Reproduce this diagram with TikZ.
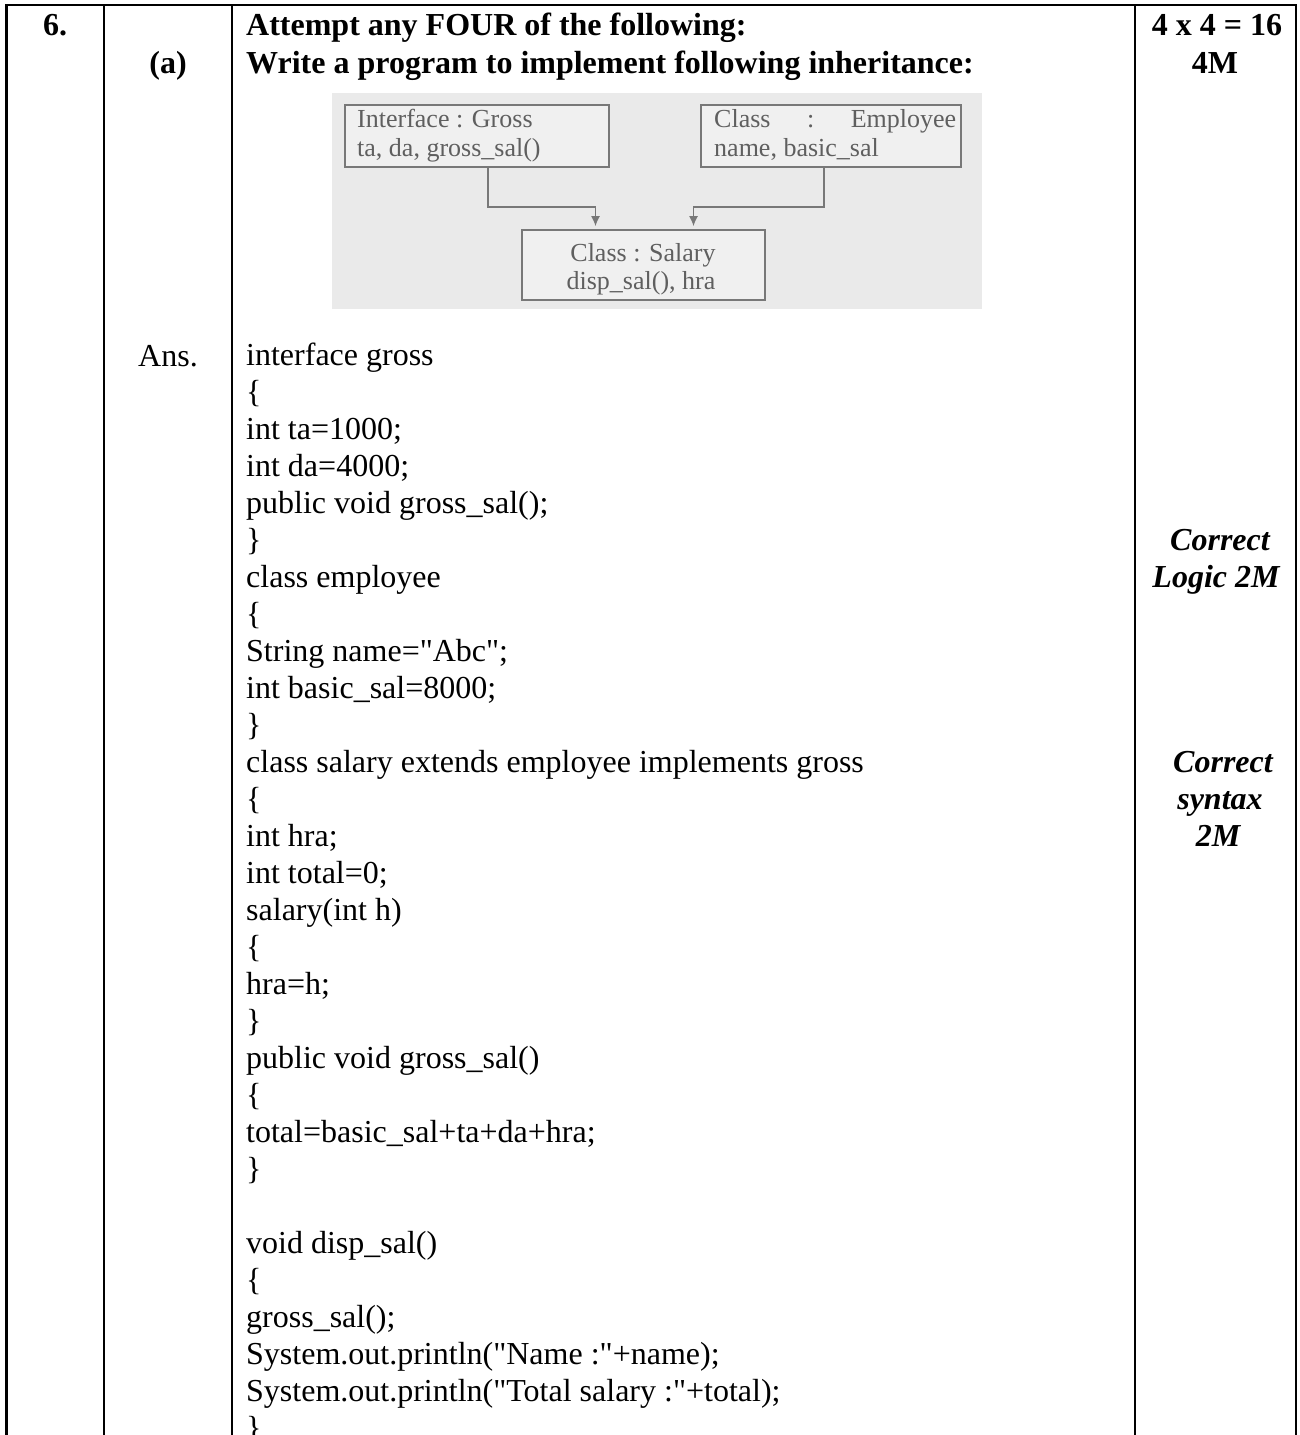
\documentclass[tikz,border=0pt]{standalone}
\usepackage{fontspec}
\setmainfont{Liberation Serif}[Ligatures=TeXOff]
\usetikzlibrary{arrows.meta}
\definecolor{imgbg}{RGB}{234,234,234}
\definecolor{boxfill}{RGB}{240,240,240}
\definecolor{boxline}{RGB}{120,120,120}
\definecolor{boxtext}{RGB}{95,95,95}
\newcommand\codeln[2]{\node[codetxt] (c#1) at (246,{365+37*(#1-1)}) {#2};}
\begin{document}
\begin{tikzpicture}[x=1pt,y=-1pt,
  rule/.style={line width=2.8pt, black},
  hdr/.style={font={\fontsize{32}{37}\selectfont\bfseries}, inner sep=0pt},
  codetxt/.style={font={\fontsize{32}{37}\selectfont}, inner sep=0pt, anchor=base west},
  marktxt/.style={font={\fontsize{32}{37}\selectfont\bfseries\itshape}, inner sep=0pt, anchor=base},
  umlbox/.style={draw=boxline, line width=1.6pt, fill=boxfill, inner sep=0pt},
  umltxt/.style={text=boxtext, font={\fontsize{26}{30}\selectfont}, inner sep=0pt},
  conn/.style={draw=boxline, line width=1.6pt, -{Latex[length=10pt,width=9pt]}, shorten >=3pt}
]
\path[use as bounding box] (0,0) rectangle (1299,1435);
\fill[white] (0,0) rectangle (1299,1435);

% table rules
\draw[rule] (5.3,5) -- (1297.4,5);
\draw[rule] (6.7,5) -- (6.7,1435);
\draw[rule] (104,5) -- (104,1435);
\draw[rule] (232,5) -- (232,1435);
\draw[rule] (1135,5) -- (1135,1435);
\draw[rule] (1296,5) -- (1296,1435);

% header
\node[hdr, anchor=base] (qno) at (55,35) {6.};
\node[hdr, anchor=base] (sub) at (168,73) {(a)};
\node[hdr, anchor=base west] (h1) at (246,35) {Attempt any FOUR of the following:};
\node[hdr, anchor=base west] (h2) at (246,73) {Write a program to implement following inheritance:};
\node[hdr, anchor=base] (m1) at (1217,35) {4 x 4 = 16};
\node[hdr, anchor=base] (m2) at (1215,73) {4M};

% embedded diagram (scanned picture)
\fill[imgbg] (332,93) rectangle (982,309);
\node[umlbox, minimum width=264pt, minimum height=62pt] (gross) at (477,136) {};
\node[umlbox, minimum width=260pt, minimum height=62pt] (emp) at (831,136) {};
\node[umlbox, minimum width=243pt, minimum height=70pt] (sal) at (643.5,265) {};
\node[umltxt, anchor=base west] (g1) at (357,127) {Interface : Gross};
\node[umltxt, anchor=base west] (g2) at (357,156) {ta, da, gross\_sal()};
\node[umltxt, anchor=base west, text width=242pt, align=left] (e1) at (714,127) {Class\hfill:\hfill Employee};
\node[umltxt, anchor=base west] (e2) at (714,156) {name, basic\_sal};
\node[umltxt, anchor=base] (s1) at (643,261) {Class : Salary};
\node[umltxt, anchor=base] (s2) at (641,289) {disp\_sal(), hra};
\draw[conn] ([xshift=11pt]gross.south) |- ([xshift=-48pt,yshift=22pt]sal.north) -- ([xshift=-48pt]sal.north);
\draw[conn] ([xshift=-7pt]emp.south) |- ([xshift=50pt,yshift=22pt]sal.north) -- ([xshift=50pt]sal.north);

% answer
\node[codetxt, anchor=base] (ans) at (168,366) {Ans.};
\codeln{1}{interface gross}
\codeln{2}{\{}
\codeln{3}{int ta=1000;}
\codeln{4}{int da=4000;}
\codeln{5}{public void gross\_sal();}
\codeln{6}{\}}
\codeln{7}{class employee}
\codeln{8}{\{}
\codeln{9}{String name="Abc";}
\codeln{10}{int basic\_sal=8000;}
\codeln{11}{\}}
\codeln{12}{class salary extends employee implements gross}
\codeln{13}{\{}
\codeln{14}{int hra;}
\codeln{15}{int total=0;}
\codeln{16}{salary(int h)}
\codeln{17}{\{}
\codeln{18}{hra=h;}
\codeln{19}{\}}
\codeln{20}{public void gross\_sal()}
\codeln{21}{\{}
\codeln{22}{total=basic\_sal+ta+da+hra;}
\codeln{23}{\}}
\codeln{25}{void disp\_sal()}
\codeln{26}{\{}
\codeln{27}{gross\_sal();}
\codeln{28}{System.out.println("Name :"+name);}
\codeln{29}{System.out.println("Total salary :"+total);}
\codeln{30}{\}}

% marks
\node[marktxt] (k1) at (1220,{365+37*5}) {Correct};
\node[marktxt] (k2) at (1216,{365+37*6}) {Logic 2M};
\node[marktxt] (k3) at (1223,{365+37*11}) {Correct};
\node[marktxt] (k4) at (1220,{365+37*12}) {syntax};
\node[marktxt] (k5) at (1218,{365+37*13}) {2M};
\end{tikzpicture}
\end{document}
